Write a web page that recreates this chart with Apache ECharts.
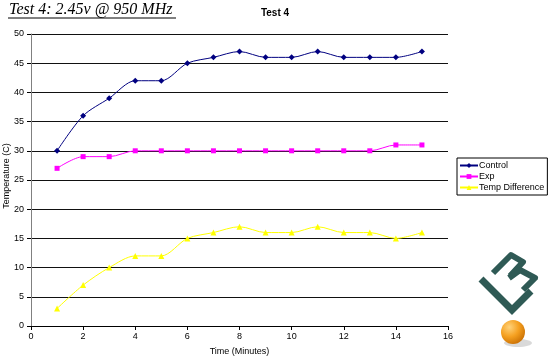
<!DOCTYPE html>
<html>
<head>
<meta charset="utf-8">
<script src="https://cdn.jsdelivr.net/npm/echarts@6/dist/echarts.min.js"></script>
<style>html,body{margin:0;padding:0;background:#fff;}#c{width:550px;height:362px;}</style>
</head>
<body>
<div id="c"></div>
<script>
const minutes = [1,2,3,4,5,6,7,8,9,10,11,12,13,14,15];
const control = [30,36,39,42,42,45,46,47,46,46,47,46,46,46,47];
const exp = [27,29,29,30,30,30,30,30,30,30,30,30,30,31,31];
const tempDiff = [3,7,10,12,12,15,16,17,16,16,17,16,16,15,16];
const seriesNames = ['Control','Exp','Temp Difference'];

const pair = arr => minutes.map((m,i)=>[m,arr[i]]);
const chart = echarts.init(document.getElementById('c'), null, {renderer:'canvas'});
const font = 'Arial, "Liberation Sans", sans-serif';
const mk = (name, data, color, symbol, size) => ({
  name, type:'line', data: pair(data), smooth:0.3, symbol, symbolSize:size,
  lineStyle:{color, width:1}, itemStyle:{color}, animation:false
});
chart.setOption({
  animation:false,
  title:{text:'Test 4', left:270, top:3, textAlign:'center',
    textStyle:{fontSize:10, fontWeight:'bold', fontFamily:font, color:'#000'}},
  legend:{
    orient:'vertical', left:457, top:158, padding:[3,3,3,2], itemGap:2,
    itemWidth:18, itemHeight:6, borderColor:'#000', borderWidth:1, backgroundColor:'#fff',
    textStyle:{fontSize:9, fontFamily:font, color:'#000', padding:[0,0,0,-4]},
    data: seriesNames
  },
  grid:{left:31, right:102, top:34, bottom:36, containLabel:false, outerBoundsMode:'none'},
  xAxis:{type:'value', min:0, max:16, interval:2,
    name:'Time (Minutes)', nameLocation:'middle', nameGap:21,
    nameTextStyle:{fontSize:9, fontFamily:font, color:'#000'},
    axisLine:{lineStyle:{color:'#000', width:1}},
    axisTick:{show:true, length:4, lineStyle:{color:'#000'}},
    axisLabel:{fontSize:9, fontFamily:font, color:'#000', margin:6},
    splitLine:{show:false}},
  yAxis:{type:'value', min:0, max:50, interval:5,
    axisLine:{show:true, lineStyle:{color:'#808080', width:1}},
    axisTick:{show:true, length:4, lineStyle:{color:'#000'}},
    axisLabel:{fontSize:9, fontFamily:font, color:'#000', margin:7},
    splitLine:{show:true, lineStyle:{color:'#111', width:1}}},
  series:[
    mk(seriesNames[0], control, '#000080', 'diamond', 6),
    mk(seriesNames[1], exp, '#ff00ff', 'rect', 5),
    mk(seriesNames[2], tempDiff, '#ffff00', 'triangle', 6)
  ],
  graphic:[
    {type:'text', x:7, y:176, rotation:Math.PI/2,
      style:{text:'Temperature (C)', font:'9px Arial, "Liberation Sans", sans-serif',
        fill:'#000', align:'center', verticalAlign:'middle'}},
    {type:'text', left:9, top:2, style:{text:'Test 4: 2.45v @ 950 MHz',
      font:'italic 16px "Liberation Serif", "Times New Roman", serif', fill:'#000'}},
    {type:'line', shape:{x1:8, y1:18, x2:176, y2:18}, style:{stroke:'#000', lineWidth:1}},
    {type:'polyline', shape:{points:[[481,279],[512,310],[531,291]]},
      style:{stroke:'#2f5a55', lineWidth:7, lineJoin:'miter', fill:null}},
    {type:'polyline', shape:{points:[[493,273],[511,255],[523,262],[510,276]]},
      style:{stroke:'#2f5a55', lineWidth:6, lineJoin:'round', fill:null}},
    {type:'polyline', shape:{points:[[509,278],[520,270],[535,278],[523,290]]},
      style:{stroke:'#2f5a55', lineWidth:6, lineJoin:'round', fill:null}},
    {type:'ellipse', shape:{cx:518, cy:343, rx:14, ry:4}, style:{fill:'rgba(0,0,0,0.15)'}},
    {type:'circle', shape:{cx:513, cy:332, r:12},
      style:{fill:{type:'radial', x:0.35, y:0.3, r:0.8,
        colorStops:[{offset:0,color:'#ffd27a'},{offset:0.5,color:'#f5a020'},{offset:1,color:'#c46a00'}]}}}
  ]
});
</script>
</body>
</html>
